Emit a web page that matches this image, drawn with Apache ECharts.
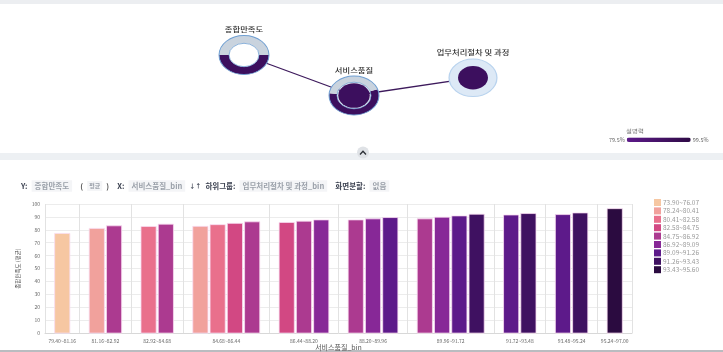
<!DOCTYPE html>
<html>
<head>
<meta charset="utf-8">
<script src="https://cdn.jsdelivr.net/npm/echarts@6.0.0/dist/echarts.min.js"></script>
<style>
  html, body { margin: 0; padding: 0; background: #fff; }
  #chart { width: 723px; height: 352px; }
</style>
</head>
<body>
<div id="chart"></div>
<script>
// x 구간 (서비스품질_bin)
const groupLabels = ['79.40~81.16', '81.16~82.92', '82.92~84.68', '84.68~86.44', '86.44~88.20',
  '88.20~89.96', '89.96~91.72', '91.72~93.48', '93.48~95.24', '95.24~97.00'];
// 하위그룹 구간 (업무처리절차 및 과정_bin)
const binLabels = ['73.90~76.07', '78.24~80.41', '80.41~82.58', '82.58~84.75', '84.75~86.92',
  '86.92~89.09', '89.09~91.26', '91.26~93.43', '93.43~95.60'];
// x 구간마다 있는 하위그룹 번호
const groupBins = [[0], [1, 4], [2, 4], [1, 2, 3, 4], [3, 4, 5], [4, 5, 6], [4, 5, 6, 7], [6, 7], [6, 7], [8]];
// 종합만족도 평균
const groupValues = [[77.2], [81.1, 83.1], [82.6, 84.4], [82.7, 84.0, 85.0, 86.2], [85.7, 86.7, 87.7],
  [87.7, 88.5, 89.5], [88.5, 89.8, 90.8, 92.1], [91.5, 92.6], [91.8, 93.1], [96.4]];

// 상단 관계도
const nodeNames = ['종합만족도', '서비스품질', '업무처리절차 및 과정'];
const nodeShare = [0.5, 0.57, 1];
const edges = [[0, 1], [1, 2]];
const explainRange = [79.5, 99.5];

const binColors = ['#f6c7a2', '#f1a19c', '#e9708c', '#d24883', '#ac3a90', '#872897', '#5d1a8a', '#3f1161', '#2b0b40'];
const nodeLayout = [[244, 55], [354, 95.5], [473, 77.8]];
const nodeKinds = ['hollow', 'filled', 'halo'];
const ringStart = [0, -0.33, 0];
const DARK = '#3c0f5e';

// 막대 위치: 구간마다 (막대수 + 1) 칸
let start = 0;
const boundaries = [0];
const centers = [];
const barData = binLabels.map(() => []);
groupBins.forEach((bins, g) => {
  bins.forEach((b, i) => barData[b].push([start + 1 + i, groupValues[g][i]]));
  centers.push(start + (bins.length + 1) / 2);
  start += bins.length + 1;
  boundaries.push(start);
});
const total = start;

function renderBar(params, api) {
  const x = api.value(0), v = api.value(1);
  const top = api.coord([x, v]);
  const size = api.size([0.88, v]);
  return {
    type: 'rect',
    shape: { x: top[0] - size[0] / 2, y: top[1], width: size[0], height: size[1] },
    style: { fill: api.visual('color'), stroke: '#f9dcf1', lineWidth: 0.8 }
  };
}

function renderEdge(params, api) {
  const a = api.coord([api.value(0), api.value(1)]);
  const b = api.coord([api.value(2), api.value(3)]);
  return {
    type: 'line',
    shape: { x1: a[0], y1: a[1], x2: b[0], y2: b[1] },
    style: { stroke: '#3d1a5c', lineWidth: 1.3 }
  };
}

function renderNode(params, api) {
  const i = params.dataIndex;
  const c = api.coord([api.value(0), api.value(1)]);
  const share = api.value(2);
  const kind = nodeKinds[i];
  const R = 19.5;
  const children = [];
  if (kind === 'halo') {
    children.push({ type: 'circle', shape: { cx: 0, cy: 0, r: 18.7 }, style: { fill: '#dde9f6', stroke: '#b9d3ee', lineWidth: 1 } });
    children.push({ type: 'circle', shape: { cx: 0, cy: 0, r: 11.7 }, style: { fill: DARK } });
  } else {
    const r0 = kind === 'hollow' ? 11.7 : 13.3;
    const a0 = ringStart[i];
    const a1 = a0 + share * Math.PI * 2;
    children.push({ type: 'sector', shape: { cx: 0, cy: 0, r0: r0, r: R, startAngle: a0, endAngle: a1, clockwise: true }, style: { fill: DARK } });
    children.push({ type: 'sector', shape: { cx: 0, cy: 0, r0: r0, r: R, startAngle: a1, endAngle: a0 + Math.PI * 2, clockwise: true }, style: { fill: '#c9d3de' } });
    children.push({ type: 'circle', shape: { cx: 0, cy: 0, r: R }, style: { fill: null, stroke: '#6f9fd2', lineWidth: 0.8 } });
    children.push({ type: 'circle', shape: { cx: 0, cy: 0, r: r0 }, style: { fill: kind === 'hollow' ? '#fff' : null, stroke: '#6f9fd2', lineWidth: 0.7 } });
    if (kind === 'filled') {
      children.push({ type: 'circle', shape: { cx: 0, cy: 0, r: 12.3 }, style: { fill: DARK } });
    }
  }
  children.push({
    type: 'text', x: 0, y: -25,
    style: { text: nodeNames[i], fontSize: 6.5, fontWeight: 500, fill: '#2e2e2e', align: 'center', verticalAlign: 'middle', fontFamily: 'Noto Sans CJK KR' }
  });
  return { type: 'group', x: c[0], y: c[1], scaleX: 1.28, children: children };
}

const chart = echarts.init(document.getElementById('chart'));

const barSeries = binLabels.map((name, b) => ({
  type: 'custom',
  name: name,
  xAxisIndex: 0,
  yAxisIndex: 0,
  itemStyle: { color: binColors[b] },
  encode: { x: 0, y: 1 },
  data: barData[b],
  renderItem: renderBar,
  z: 3
}));

chart.setOption({
  animation: false,
  textStyle: { fontFamily: 'Noto Sans CJK KR' },
  title: {
    left: 16,
    top: 172,
    text: '{k|Y:} {v|종합만족도}  {p|(} {s|평균} {p|)}  {k|X:} {v|서비스품질_bin} {a|↓↑} {k|하위그룹:} {v|업무처리절차 및 과정_bin}  {k|화면분할:} {v|없음}',
    textStyle: {
      rich: {
        k: { fontSize: 7.5, fontWeight: 'bold', color: '#3b4150' },
        v: { fontSize: 7.5, color: '#9ba1aa', backgroundColor: '#f4f5f7', padding: [2, 3] },
        s: { fontSize: 6, color: '#9ba1aa', backgroundColor: '#f4f5f7', padding: [2, 2] },
        p: { fontSize: 7.5, color: '#555' },
        a: { fontSize: 6, color: '#3b4150', fontWeight: 'bold' }
      }
    }
  },
  legend: {
    data: binLabels,
    orient: 'vertical',
    left: 654,
    top: 199,
    icon: 'rect',
    itemWidth: 7,
    itemHeight: 7,
    itemGap: 1.4,
    padding: 0,
    textStyle: { fontSize: 6.5, color: '#9a9a9a', padding: [0, 0, 0, -3] }
  },
  visualMap: {
    type: 'continuous',
    orient: 'horizontal',
    min: explainRange[0],
    max: explainRange[1],
    text: [explainRange[1] + '%', explainRange[0] + '%'],
    calculable: false,
    itemWidth: 4.5,
    itemHeight: 64,
    textGap: 2,
    left: 609,
    top: 137,
    padding: 0,
    seriesIndex: 10,
    dimension: 0,
    inRange: { color: ['#5d1a8a', '#2e0a45'] },
    textStyle: { fontSize: 5.5, color: '#666' }
  },
  graphic: [
    { type: 'rect', z: -10, shape: { x: 0, y: 0, width: 723, height: 4 }, style: { fill: '#eceef1' } },
    { type: 'rect', z: -10, shape: { x: 0, y: 153, width: 723, height: 7 }, style: { fill: '#edf0f3' } },
    { type: 'rect', z: -10, shape: { x: 0, y: 350, width: 723, height: 2 }, style: { fill: '#b9bcc0' } },
    { type: 'circle', z: 5, shape: { cx: 363, cy: 152.5, r: 6 }, style: { fill: '#dfe2e6' } },
    { type: 'polyline', z: 6, shape: { points: [[360, 154.5], [363, 151.3], [366, 154.5]] }, style: { stroke: '#2c2f35', lineWidth: 1.3, fill: null } },
    { type: 'text', z: 5, x: 635, y: 131, style: { text: '설명력', fontSize: 5.5, fill: '#666', align: 'center', verticalAlign: 'middle' } }
  ],
  grid: [
    { left: 45, right: 91, top: 204, bottom: 18 },
    { left: 0, right: 0, top: 0, height: 152 }
  ],
  xAxis: [
    {
      type: 'value',
      gridIndex: 0,
      min: 0,
      max: total,
      name: '서비스품질_bin',
      nameLocation: 'middle',
      nameGap: 9,
      nameTextStyle: { fontSize: 7, color: '#555' },
      axisLine: { show: true, lineStyle: { color: '#d8d8d8' } },
      axisTick: { show: false },
      splitLine: { show: false },
      axisLabel: {
        customValues: centers,
        fontSize: 5,
        color: '#666',
        margin: 5,
        formatter: (val) => {
          const k = centers.findIndex(c => Math.abs(c - val) < 1e-6);
          return k >= 0 ? groupLabels[k] : '';
        }
      }
    },
    { type: 'value', gridIndex: 1, min: 0, max: 723, show: false }
  ],
  yAxis: [
    {
      type: 'value',
      gridIndex: 0,
      min: 0,
      max: 100,
      interval: 10,
      name: '종합만족도 (평균)',
      nameLocation: 'middle',
      nameRotate: 90,
      nameGap: 14,
      nameTextStyle: { fontSize: 5.5, color: '#444' },
      axisLine: { show: false },
      axisTick: { show: false },
      splitLine: { lineStyle: { color: '#ececec' } },
      axisLabel: { fontSize: 5, color: '#666', margin: 5 }
    },
    { type: 'value', gridIndex: 1, min: 0, max: 152, inverse: true, show: false }
  ],
  series: [
    {
      type: 'line',
      name: '',
      xAxisIndex: 0,
      yAxisIndex: 0,
      data: [],
      silent: true,
      markLine: {
        silent: true,
        symbol: 'none',
        label: { show: false },
        lineStyle: { color: '#e2e2e2', width: 1, type: 'solid' },
        data: boundaries.map(b => ({ xAxis: b }))
      }
    }
  ].concat(barSeries, [
    {
      type: 'custom',
      name: 'edges',
      xAxisIndex: 1,
      yAxisIndex: 1,
      silent: true,
      encode: { x: [0, 2], y: [1, 3] },
      data: edges.map(([a, b]) => [nodeLayout[a][0], nodeLayout[a][1], nodeLayout[b][0], nodeLayout[b][1]]),
      renderItem: renderEdge,
      z: 1
    },
    {
      type: 'custom',
      name: 'nodes',
      xAxisIndex: 1,
      yAxisIndex: 1,
      silent: true,
      encode: { x: 0, y: 1 },
      data: nodeLayout.map((p, i) => [p[0], p[1], nodeShare[i]]),
      renderItem: renderNode,
      z: 4
    }
  ])
});
</script>
</body>
</html>
